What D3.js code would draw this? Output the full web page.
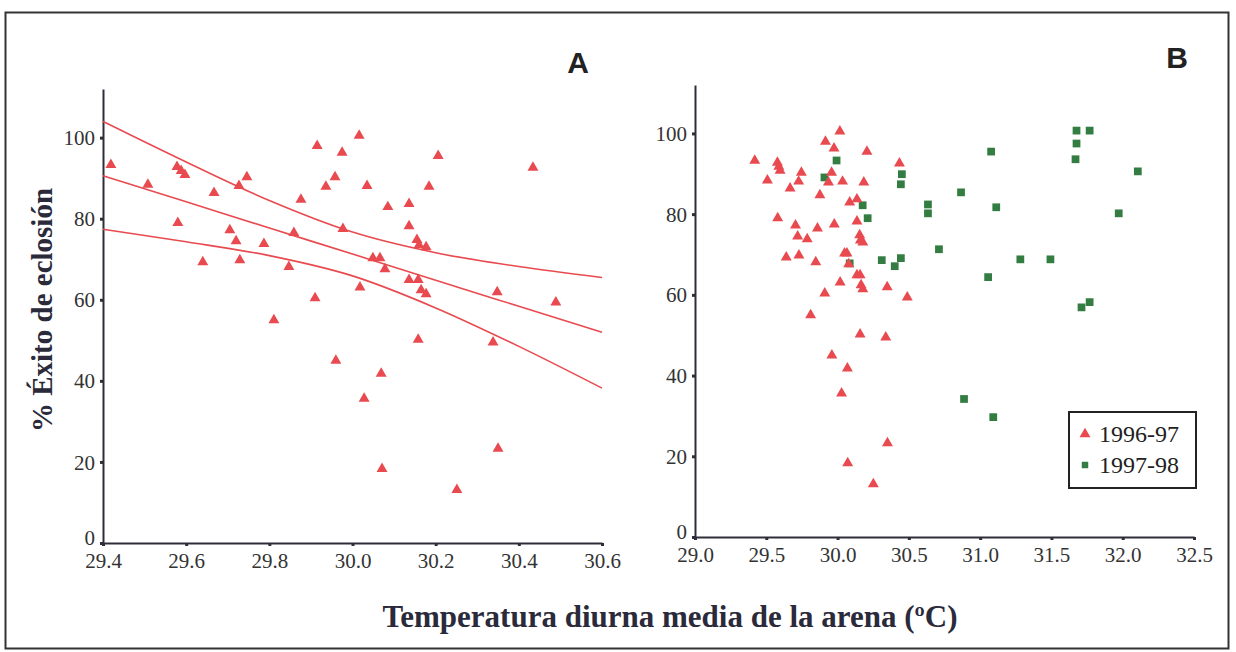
<!DOCTYPE html>
<html>
<head>
<meta charset="utf-8">
<script src="https://cdn.jsdelivr.net/npm/d3@7"></script>
<style>
  body { margin: 0; background: #fff; }
</style>
</head>
<body>
<svg id="chart" width="1236" height="652"></svg>
<script>
// 1996-97 season: mean diurnal sand temperature (ºC) and hatching success (%)
const temp9697 = [29.419, 29.508, 29.578, 29.588, 29.597, 29.580, 29.640, 29.667, 29.705, 29.720,
  29.727, 29.746, 29.729, 29.787, 29.811, 29.847, 29.859, 29.876, 29.910, 29.915,
  29.936, 29.958, 29.975, 29.977, 29.960, 30.016, 30.035, 30.018, 30.028, 30.049,
  30.066, 30.078, 30.069, 30.071, 30.085, 30.136, 30.136, 30.155, 30.160, 30.177,
  30.136, 30.158, 30.165, 30.177, 30.158, 30.184, 30.206, 30.251, 30.338, 30.348,
  30.350, 30.434, 30.489];
const exito9697 = [93.3, 88.4, 92.8, 91.8, 90.8, 79.0, 69.3, 86.4, 77.2, 74.5,
  88.1, 90.3, 69.8, 73.8, 55.0, 68.1, 76.5, 84.7, 60.4, 98.0,
  87.9, 90.3, 96.3, 77.5, 45.0, 100.5, 88.1, 63.1, 35.6, 70.3,
  70.3, 67.6, 41.8, 18.3, 82.9, 83.7, 78.2, 74.8, 73.5, 73.0,
  64.9, 64.9, 62.4, 61.4, 50.2, 87.9, 95.5, 13.1, 49.5, 61.9,
  23.3, 92.6, 59.4];

// 1997-98 season
const temp9798 = [29.993, 29.908, 30.176, 30.211, 30.085, 30.310, 30.401, 30.444, 30.444, 30.451,
  30.634, 30.634, 30.711, 30.866, 31.077, 31.113, 31.056, 31.282, 31.493, 31.676,
  31.768, 31.676, 31.669, 32.106, 31.972, 31.711, 31.768, 30.887, 31.092];
const exito9798 = [93.3, 89.1, 82.2, 79.0, 67.8, 68.6, 67.1, 69.1, 87.4, 89.9,
  82.4, 80.2, 71.3, 85.4, 95.5, 81.7, 64.4, 68.8, 68.8, 100.7,
  100.7, 97.5, 93.6, 90.6, 80.2, 56.9, 58.2, 34.2, 29.7];

// regression line and its confidence band (panel A)
const bandX = [29.4, 29.6, 29.8, 30.0, 30.2, 30.4, 30.6];
const bandUpper = [104.0, 94.0, 84.5, 76.7, 71.6, 68.2, 65.5];
const bandMid = [90.6, 84.2, 77.7, 71.3, 64.8, 58.4, 52.0];
const bandLower = [77.4, 74.3, 70.9, 65.9, 58.0, 48.5, 38.2];

const ticksY = [0, 20, 40, 60, 80, 100];
const ticksXA = [29.4, 29.6, 29.8, 30.0, 30.2, 30.4, 30.6];
const ticksXB = [29.0, 29.5, 30.0, 30.5, 31.0, 31.5, 32.0, 32.5];
const seasons = ["1996-97", "1997-98"];

const red = "#e84a4f", green = "#347d42", axisCol = "#2e2e3a";
const serif = "'Liberation Serif', 'Times New Roman', serif";

const svg = d3.select("#chart");

// outer frame
svg.append("rect")
  .attr("x", 5.5).attr("y", 12.5)
  .attr("width", 1223).attr("height", 636)
  .attr("fill", "none")
  .attr("stroke", "#333").attr("stroke-width", 2);

function drawAxes(g, x, y, xTicks, fmtX) {
  const xAxis = g.append("g")
    .attr("transform", `translate(0,${y(0)})`)
    .call(d3.axisBottom(x).tickValues(xTicks).tickFormat(fmtX).tickSizeInner(3).tickSizeOuter(0).tickPadding(5));
  const yAxis = g.append("g")
    .attr("transform", `translate(${x.range()[0]},0)`)
    .call(d3.axisLeft(y).tickValues(ticksY).tickSizeInner(3).tickSizeOuter(0).tickPadding(5));
  [xAxis, yAxis].forEach(a => {
    a.attr("font-family", serif).attr("font-size", 21);
    a.select(".domain").attr("stroke", axisCol).attr("stroke-width", 2);
    a.selectAll(".tick line").attr("stroke", axisCol).attr("stroke-width", 3);
    a.selectAll(".tick text").attr("fill", "#333");
  });
  yAxis.selectAll(".tick text").attr("dy", d => d === 0 ? "0.05em" : "0.34em");
  xAxis.selectAll(".tick text").attr("dy", "0.8em");
}

const tri = d3.symbol().type(d3.symbolTriangle).size(52);
const sq = d3.symbol().type(d3.symbolSquare).size(60);

// PANEL A
const xA = d3.scaleLinear().domain([29.4, 30.6]).range([103, 602]);
const yA = d3.scaleLinear().domain([0, 112]).range([543, 89]);
const gA = svg.append("g");
drawAxes(gA, xA, yA, ticksXA, d3.format(".1f"));

[bandUpper, bandMid, bandLower].forEach(vals => {
  gA.append("path")
    .datum(bandX.map((d, i) => [d, vals[i]]))
    .attr("fill", "none")
    .attr("stroke", red)
    .attr("stroke-width", 1.6)
    .attr("d", d3.line().x(d => xA(d[0])).y(d => yA(d[1])).curve(d3.curveMonotoneX));
});

gA.selectAll(".tA")
  .data(temp9697.map((t, i) => [t, exito9697[i]]))
  .enter().append("path")
  .attr("transform", d => `translate(${xA(d[0])},${yA(d[1])})`)
  .attr("d", tri)
  .attr("fill", red);

svg.append("text")
  .attr("x", 578).attr("y", 73)
  .attr("text-anchor", "middle")
  .attr("font-family", "'Liberation Sans', Arial, sans-serif")
  .attr("font-weight", "bold")
  .attr("font-size", 30)
  .attr("fill", "#222")
  .text("A");

// PANEL B
const xB = d3.scaleLinear().domain([29.0, 32.5]).range([695, 1194]);
const yB = d3.scaleLinear().domain([0, 112]).range([537, 85]);
const gB = svg.append("g");
drawAxes(gB, xB, yB, ticksXB, d3.format(".1f"));

gB.selectAll(".sB")
  .data(temp9798.map((t, i) => [t, exito9798[i]]))
  .enter().append("path")
  .attr("transform", d => `translate(${xB(d[0])},${yB(d[1])})`)
  .attr("d", sq)
  .attr("fill", green);

gB.selectAll(".tB")
  .data(temp9697.map((t, i) => [t, exito9697[i]]))
  .enter().append("path")
  .attr("transform", d => `translate(${xB(d[0])},${yB(d[1])})`)
  .attr("d", tri)
  .attr("fill", red);

svg.append("text")
  .attr("x", 1177).attr("y", 68)
  .attr("text-anchor", "middle")
  .attr("font-family", "'Liberation Sans', Arial, sans-serif")
  .attr("font-weight", "bold")
  .attr("font-size", 30)
  .attr("fill", "#222")
  .text("B");

// Legend
const legend = svg.append("g").attr("transform", "translate(1069,412)");
legend.append("rect")
  .attr("width", 127).attr("height", 76)
  .attr("fill", "#fff")
  .attr("stroke", "#222").attr("stroke-width", 2);
seasons.forEach((s, i) => {
  legend.append("path")
    .attr("transform", `translate(16,${22 + i * 31})`)
    .attr("d", i === 0 ? tri : d3.symbol().type(d3.symbolSquare).size(42))
    .attr("fill", i === 0 ? red : green);
  legend.append("text")
    .attr("x", 30).attr("y", 30 + i * 31)
    .attr("font-family", serif)
    .attr("font-size", 24)
    .attr("fill", "#222")
    .text(s);
});

// Axis titles
svg.append("text")
  .attr("x", 670).attr("y", 627)
  .attr("text-anchor", "middle")
  .attr("font-family", serif)
  .attr("font-weight", "bold")
  .attr("font-size", 31)
  .attr("fill", "#2a2a3a")
  .text("Temperatura diurna media de la arena (ºC)");

svg.append("text")
  .attr("transform", "translate(52,310) rotate(-90)")
  .attr("text-anchor", "middle")
  .attr("font-family", serif)
  .attr("font-weight", "bold")
  .attr("font-size", 29)
  .attr("fill", "#2a2a3a")
  .text("% Éxito de eclosión");
</script>
</body>
</html>
